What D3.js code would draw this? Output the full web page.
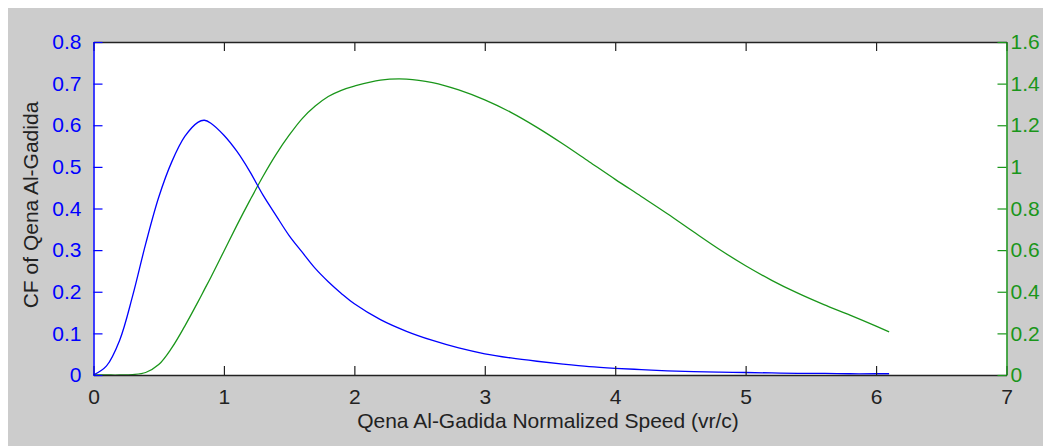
<!DOCTYPE html>
<html>
<head>
<meta charset="utf-8">
<script src="https://cdn.jsdelivr.net/npm/d3@7/dist/d3.min.js"></script>
<style>
  html, body { margin: 0; padding: 0; background: #fff; }
  svg { display: block; }
  text { font-family: "Liberation Sans", Arial, sans-serif; }
</style>
</head>
<body>
<div id="chart"></div>
<script>
/*global d3*/
'use strict';

// Normalized speed (vr/c) samples, shared by both curves
var speed = [0, 0.1, 0.2, 0.3, 0.4, 0.5, 0.6, 0.7, 0.8, 0.85, 0.9, 1.0, 1.1, 1.2, 1.3, 1.4, 1.5,
  1.6, 1.7, 1.8, 1.9, 2.0, 2.2, 2.4, 2.6, 2.8, 3.0, 3.2, 3.4, 3.6, 3.8, 4.0, 4.2, 4.4,
  4.6, 4.8, 5.0, 5.2, 5.4, 5.6, 5.8, 6.0, 6.1];

// Left axis (blue) - CF of Qena Al-Gadida
var cfValues = [0, 0.022, 0.083, 0.19, 0.315, 0.427, 0.512, 0.573, 0.607, 0.612, 0.605, 0.576, 0.537,
  0.488, 0.432, 0.383, 0.335, 0.295, 0.256, 0.224, 0.196, 0.171, 0.133, 0.105, 0.083, 0.065,
  0.051, 0.041, 0.033, 0.026, 0.020, 0.016, 0.013, 0.010, 0.008, 0.007, 0.006, 0.005, 0.004,
  0.004, 0.003, 0.003, 0.003];

// Right axis (green)
var rightValues = [0, 0, 0, 0.002, 0.012, 0.05, 0.13, 0.235, 0.35, 0.41, 0.47, 0.595, 0.72, 0.84,
  0.955, 1.06, 1.152, 1.232, 1.292, 1.338, 1.368, 1.388, 1.417, 1.422, 1.405, 1.37, 1.322,
  1.262, 1.19, 1.11, 1.025, 0.94, 0.858, 0.775, 0.688, 0.603, 0.525, 0.455, 0.393, 0.338,
  0.288, 0.235, 0.207];

var xTicks = [0, 1, 2, 3, 4, 5, 6, 7];
var leftTicks = [0, 0.1, 0.2, 0.3, 0.4, 0.5, 0.6, 0.7, 0.8];
var rightTicks = [0, 0.2, 0.4, 0.6, 0.8, 1, 1.2, 1.4, 1.6];

var xLabel = 'Qena Al-Gadida Normalized Speed (vr/c)';
var yLabel = 'CF of Qena Al-Gadida';

var W = 1043, H = 446;
var box = {left: 93.5, right: 1006.5, top: 42, bottom: 375};
var blue = '#0000ff', green = '#1a961a', dark = '#222';
var tickLen = 9;

var svg = d3.select('#chart').append('svg').attr('width', W).attr('height', H);

// MATLAB-ish grey figure background
svg.append('rect').attr('x', 8).attr('y', 8).attr('width', W - 8).attr('height', H - 8).attr('fill', '#cccccc');
svg.append('rect').attr('x', box.left).attr('y', box.top)
  .attr('width', box.right - box.left).attr('height', box.bottom - box.top).attr('fill', '#fff');

var x = d3.scaleLinear().domain([0, 7]).range([box.left, box.right]);
var yL = d3.scaleLinear().domain([0, 0.8]).range([box.bottom, box.top]);
var yR = d3.scaleLinear().domain([0, 1.6]).range([box.bottom, box.top]);

function styleAxis(g, color) {
  g.select('.domain').attr('stroke', color).attr('stroke-width', 1.5);
  g.selectAll('.tick line').attr('stroke', color).attr('stroke-width', 1.2);
  g.selectAll('.tick text').attr('fill', color).style('font-size', '21px')
    .style('font-family', '"Liberation Sans", Arial, sans-serif');
}

// Curves first, axes on top (like the reference where the flat parts sit on the axis)
var lineL = d3.line().x(function (d, i) { return x(speed[i]); }).y(function (d) { return yL(d); })
  .curve(d3.curveCatmullRom.alpha(0.5));
var lineR = d3.line().x(function (d, i) { return x(speed[i]); }).y(function (d) { return yR(d); })
  .curve(d3.curveCatmullRom.alpha(0.5));

svg.append('path').datum(rightValues).attr('d', lineR)
  .attr('fill', 'none').attr('stroke', green).attr('stroke-width', 1.3);
svg.append('path').datum(cfValues).attr('d', lineL)
  .attr('fill', 'none').attr('stroke', blue).attr('stroke-width', 1.3);

// bottom x axis, ticks pointing inward
var gx = svg.append('g').attr('transform', 'translate(0,' + box.bottom + ')')
  .call(d3.axisBottom(x).tickValues(xTicks).tickFormat(d3.format('d')).tickSizeInner(-tickLen).tickSizeOuter(0).tickPadding(13));
styleAxis(gx, dark);
gx.selectAll('.tick text').attr('dy', '0.75em');

// top x axis (box edge), no labels
var gxTop = svg.append('g').attr('transform', 'translate(0,' + box.top + ')')
  .call(d3.axisTop(x).tickValues(xTicks).tickFormat('').tickSizeInner(-tickLen).tickSizeOuter(0));
styleAxis(gxTop, dark);

// left axis (blue)
var gyL = svg.append('g').attr('transform', 'translate(' + box.left + ',0)')
  .call(d3.axisLeft(yL).tickValues(leftTicks).tickFormat(d3.format('~g')).tickSizeInner(-tickLen).tickSizeOuter(0).tickPadding(12));
styleAxis(gyL, blue);

// right axis (green)
var gyR = svg.append('g').attr('transform', 'translate(' + box.right + ',0)')
  .call(d3.axisRight(yR).tickValues(rightTicks).tickFormat(d3.format('~g')).tickSizeInner(-tickLen).tickSizeOuter(0).tickPadding(4));
styleAxis(gyR, green);

// axis titles
svg.append('text').attr('x', 548).attr('y', 428).attr('text-anchor', 'middle')
  .attr('fill', dark).style('font-size', '21px').text(xLabel);

svg.append('text').attr('transform', 'translate(38,205) rotate(-90)').attr('text-anchor', 'middle')
  .attr('fill', dark).style('font-size', '21px').text(yLabel);
</script>
</body>
</html>
